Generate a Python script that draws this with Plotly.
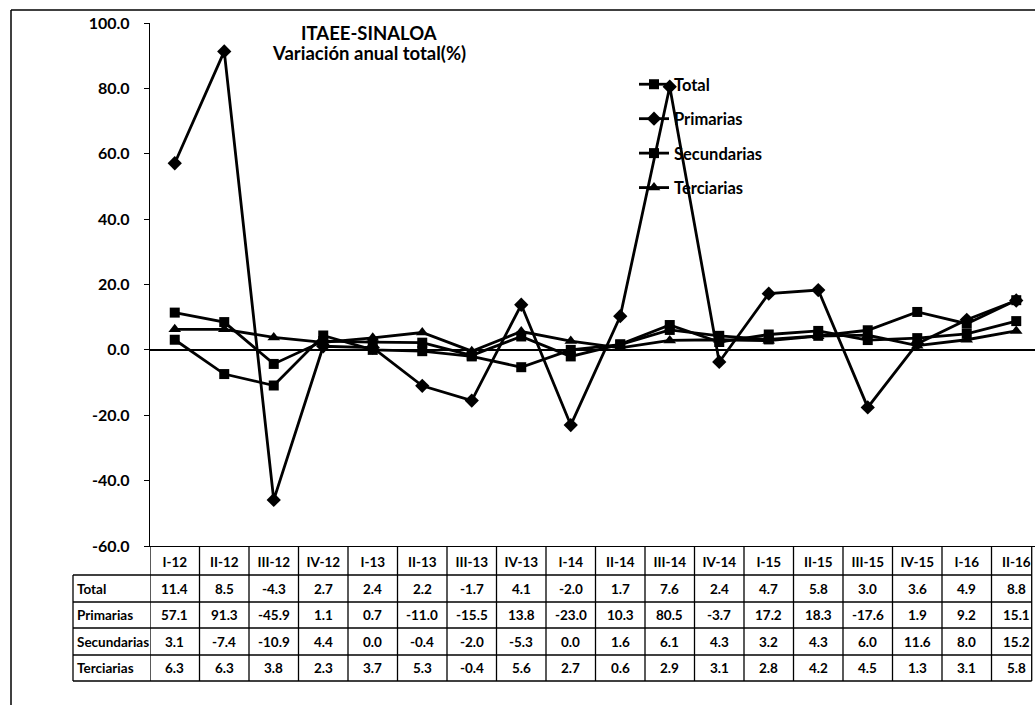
import plotly.graph_objects as go

categories = ["I-12", "II-12", "III-12", "IV-12", "I-13", "II-13", "III-13", "IV-13",
              "I-14", "II-14", "III-14", "IV-14", "I-15", "II-15", "III-15", "IV-15",
              "I-16", "II-16"]
total = [11.4, 8.5, -4.3, 2.7, 2.4, 2.2, -1.7, 4.1, -2.0, 1.7, 7.6, 2.4, 4.7, 5.8, 3.0, 3.6, 4.9, 8.8]
primarias = [57.1, 91.3, -45.9, 1.1, 0.7, -11.0, -15.5, 13.8, -23.0, 10.3, 80.5, -3.7, 17.2, 18.3,
             -17.6, 1.9, 9.2, 15.1]
secundarias = [3.1, -7.4, -10.9, 4.4, 0.0, -0.4, -2.0, -5.3, 0.0, 1.6, 6.1, 4.3, 3.2, 4.3, 6.0,
               11.6, 8.0, 15.2]
terciarias = [6.3, 6.3, 3.8, 2.3, 3.7, 5.3, -0.4, 5.6, 2.7, 0.6, 2.9, 3.1, 2.8, 4.2, 4.5, 1.3, 3.1, 5.8]
series_names = ["Total", "Primarias", "Secundarias", "Terciarias"]
y_ticks = [100, 80, 60, 40, 20, 0, -20, -40, -60]
title_lines = ["ITAEE-SINALOA", "Variación anual total(%)"]

series_values = [total, primarias, secundarias, terciarias]
symbols = ["square", "diamond", "square", "triangle-up"]
sizes = [10, 11, 10, 11]

W, H = 1035, 705
L, R, T, B = 150, 0, 23, 159
PW, PH = W - L - R, H - T - B
FONT = "Lato"


def px_x(px):
    return (px - L) / PW


def px_y(py):
    return (H - B - py) / PH


fig = go.Figure()
xs = list(range(len(categories)))
for i, (name, vals) in enumerate(zip(series_names, series_values)):
    fig.add_trace(go.Scatter(
        x=xs, y=vals, name=name, mode="lines+markers",
        line=dict(color="black", width=2.8),
        marker=dict(symbol=symbols[i], size=sizes[i], color="black"),
        legendgroup=name,
    ))

shapes = []
row_lines = [575, 602, 628, 655, 681]
table_left = 73
table_right = 1031.7
for py in row_lines:
    shapes.append(dict(type="line", xref="paper", yref="paper",
                       x0=px_x(table_left), x1=px_x(table_right), y0=px_y(py), y1=px_y(py),
                       line=dict(color="black", width=1.3)))
shapes.append(dict(type="line", xref="paper", yref="paper",
                   x0=px_x(table_left), x1=px_x(table_left),
                   y0=px_y(row_lines[0]), y1=px_y(row_lines[-1]),
                   line=dict(color="black", width=1.3)))
for k in range(len(categories)):
    shapes.append(dict(type="line", xref="x", yref="paper",
                       x0=k - 0.5, x1=k - 0.5, y0=0, y1=px_y(row_lines[-1]),
                       line=dict(color="black", width=1.3)))
shapes.append(dict(type="line", xref="paper", yref="paper",
                   x0=px_x(table_right), x1=px_x(table_right),
                   y0=0, y1=px_y(row_lines[-1]),
                   line=dict(color="black", width=1.3)))
# outer frame (top and left visible)
shapes.append(dict(type="line", xref="paper", yref="paper",
                   x0=px_x(11), x1=px_x(W), y0=px_y(10), y1=px_y(10),
                   line=dict(color="black", width=1.5)))
shapes.append(dict(type="line", xref="paper", yref="paper",
                   x0=px_x(11), x1=px_x(11), y0=px_y(10), y1=px_y(H),
                   line=dict(color="black", width=1.5)))

annotations = []
for r, (name, vals) in enumerate(zip(series_names, series_values)):
    yc = (row_lines[r] + row_lines[r + 1]) / 2
    annotations.append(dict(xref="paper", yref="paper", x=px_x(table_left + 2), y=px_y(yc),
                            text=name, showarrow=False, xanchor="left", yanchor="middle",
                            font=dict(family=FONT, size=13.5, color="black", weight="bold")))
    for k, v in enumerate(vals):
        annotations.append(dict(xref="x", yref="paper", x=k, y=px_y(yc),
                                text=f"{v:.1f}", showarrow=False, xanchor="center",
                                yanchor="middle",
                                font=dict(family=FONT, size=13.5, color="black", weight="bold")))
for txt, py in zip(title_lines, [33, 53]):
    annotations.append(dict(xref="paper", yref="paper", x=px_x(369), y=px_y(py),
                            text=txt, showarrow=False, xanchor="center", yanchor="middle",
                            font=dict(family=FONT, size=18.5, color="black", weight="bold")))

fig.update_layout(
    width=W, height=H,
    margin=dict(l=L, r=R, t=T, b=B, pad=0),
    paper_bgcolor="white", plot_bgcolor="white",
    showlegend=True,
    legend=dict(x=px_x(634), y=px_y(67), xanchor="left", yanchor="top",
                bgcolor="rgba(0,0,0,0)", traceorder="grouped", tracegroupgap=10,
                font=dict(family=FONT, size=16.5, color="black", weight="bold"),
                itemwidth=30),
    xaxis=dict(range=[-0.5, PW / 49.5 - 0.5], tickvals=xs, ticktext=categories,
               showgrid=False, zeroline=False, showline=True, linecolor="black",
               linewidth=1.3, ticks="", ticklabelstandoff=4,
               tickfont=dict(family=FONT, size=13.5, color="black", weight="bold")),
    yaxis=dict(range=[-60, 100], tickvals=y_ticks, ticktext=[f"{t:.1f}" for t in y_ticks],
               showgrid=False, zeroline=True, zerolinecolor="black", zerolinewidth=1.5,
               showline=True, linecolor="black", linewidth=1.3,
               ticks="outside", ticklen=5, tickcolor="black", ticklabelstandoff=11,
               tickfont=dict(family=FONT, size=16, color="black", weight="bold")),
    shapes=shapes, annotations=annotations,
)

fig.write_html("out.html", config={"displayModeBar": False},
               post_script="document.body.style.margin='0';document.body.style.overflow='hidden';")
